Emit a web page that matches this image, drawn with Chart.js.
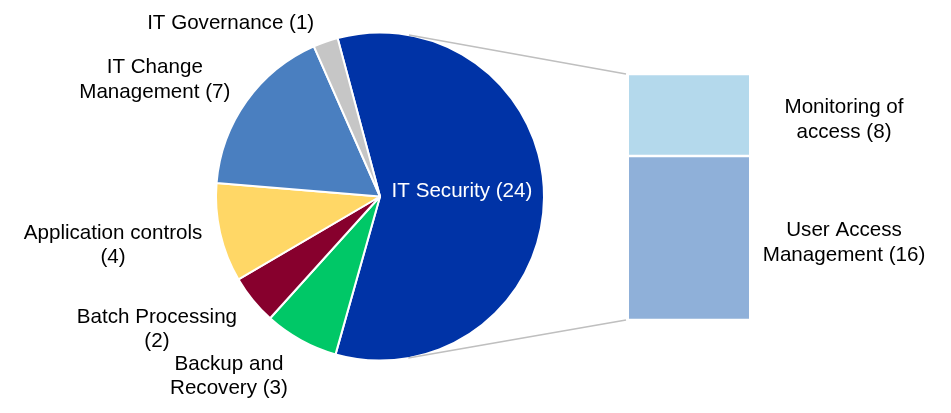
<!DOCTYPE html>
<html>
<head>
<meta charset="utf-8">
<script src="https://cdn.jsdelivr.net/npm/chart.js@4.4.1/dist/chart.umd.min.js"></script>
<style>
  body { margin: 0; background: #fff; }
  #wrap { position: relative; width: 951px; height: 413px; }
  #wrap canvas { position: absolute; left: 0; top: 0; }
</style>
</head>
<body>
<div id="wrap">
  <canvas id="pieCanvas" width="951" height="413"></canvas>
  <canvas id="barCanvas" width="951" height="413"></canvas>
</div>
<script>
// данные круговой диаграммы
const pieCategories = ['IT Security', 'Backup and Recovery', 'Batch Processing', 'Application controls', 'IT Change Management', 'IT Governance'];
const pieValues = [24, 3, 2, 4, 7, 1];
const pieColors = ['#0033A6', '#00C867', '#87002D', '#FFD766', '#4A7FC0', '#C6C6C6'];
const pieLabelLines = [
  ['IT Security (24)'],
  ['Backup and', 'Recovery (3)'],
  ['Batch Processing', '(2)'],
  ['Application controls', '(4)'],
  ['IT Change', 'Management (7)'],
  ['IT Governance (1)']
];

// разбивка IT Security (столбик справа, снизу вверх)
const barCategories = ['User Access Management', 'Monitoring of access'];
const barValues = [16, 8];
const barColors = ['#8FB0D9', '#B4D9EC'];
const barLabelLines = [
  ['User Access', 'Management (16)'],
  ['Monitoring of', 'access (8)']
];

const FONT = "20.6px 'Liberation Sans', Arial, sans-serif";
const LINE_H = 24.5;

function drawLines(ctx, lines, cx, top, color) {
  ctx.fillStyle = color;
  ctx.textAlign = 'center';
  ctx.textBaseline = 'middle';
  // +3: визуальный центр строки чуть ниже середины em-бокса
  lines.forEach((t, i) => ctx.fillText(t, cx, top + LINE_H * (i + 0.5) + 3));
}

// подписи секторов
const pieLabelsPlugin = {
  id: 'pieLabels',
  afterDatasetsDraw(chart) {
    const ctx = chart.ctx;
    const total = pieValues.reduce((a, b) => a + b, 0);
    ctx.save();
    ctx.font = FONT;
    chart.getDatasetMeta(0).data.forEach((arc, i) => {
      const p = arc.getProps(['x', 'y', 'startAngle', 'endAngle', 'outerRadius'], true);
      const mid = (p.startAngle + p.endAngle) / 2;
      const lines = pieLabelLines[i];
      const h = lines.length * LINE_H;
      if (pieValues[i] / total > 0.3) {
        const cx = p.x + Math.cos(mid) * p.outerRadius * 0.5;
        const cy = p.y + Math.sin(mid) * p.outerRadius * 0.5;
        drawLines(ctx, lines, cx, cy - h / 2 - 9, '#fff');
        return;
      }
      const w = Math.max(...lines.map(t => ctx.measureText(t).width));
      const ax = p.x + Math.cos(mid) * (p.outerRadius + 10);
      const ay = p.y + Math.sin(mid) * (p.outerRadius + 10);
      const up = -Math.sin(mid);
      const f = Math.min(1, Math.max(0, 0.5 + 0.65 * up));
      const top = ay - h * f;
      const cx = Math.cos(mid) < 0 ? ax - 8 - w / 2 : ax + 8 + w / 2;
      drawLines(ctx, lines, cx, top, '#000');
    });
    ctx.restore();
  }
};

const pieChart = new Chart(document.getElementById('pieCanvas'), {
  type: 'pie',
  data: {
    labels: pieCategories,
    datasets: [{
      data: pieValues,
      backgroundColor: pieColors,
      borderColor: '#fff',
      borderWidth: 2
    }]
  },
  options: {
    responsive: false,
    animation: false,
    rotation: -15,
    radius: 164,
    layout: { padding: { left: 0, right: 191, top: 0, bottom: 20 } },
    plugins: {
      legend: { display: false },
      tooltip: { enabled: false }
    }
  },
  plugins: [pieLabelsPlugin]
});

// соединительные линии + подписи столбика
const barExtrasPlugin = {
  id: 'barExtras',
  beforeDatasetsDraw(chart) {
    const arc = pieChart.getDatasetMeta(0).data[0];
    const c = arc.getProps(['x', 'y', 'outerRadius'], true);
    const low = chart.getDatasetMeta(0).data[0];
    const high = chart.getDatasetMeta(1).data[0];
    const left = low.x - low.width / 2 - 3;
    const corners = [[left, high.y, -1], [left, low.base, 1]];
    const ctx = chart.ctx;
    ctx.save();
    ctx.strokeStyle = '#BFBFBF';
    ctx.lineWidth = 1.5;
    corners.forEach(([px, py, sgn]) => {
      const dx = px - c.x, dy = py - c.y;
      const d = Math.hypot(dx, dy);
      const phi = Math.atan2(dy, dx);
      const a = phi + sgn * Math.acos(c.outerRadius / d);
      ctx.beginPath();
      ctx.moveTo(c.x + Math.cos(a) * c.outerRadius, c.y + Math.sin(a) * c.outerRadius);
      ctx.lineTo(px, py);
      ctx.stroke();
    });
    ctx.restore();
  },
  afterDatasetsDraw(chart) {
    const ctx = chart.ctx;
    ctx.save();
    ctx.font = FONT;
    barLabelLines.forEach((lines, i) => {
      const bar = chart.getDatasetMeta(i).data[0];
      const cx = bar.x + bar.width / 2 + 95;
      const cy = (bar.y + bar.base) / 2;
      drawLines(ctx, lines, cx, cy - lines.length * LINE_H / 2 + 2, '#000');
    });
    ctx.restore();
  }
};

const barChart = new Chart(document.getElementById('barCanvas'), {
  type: 'bar',
  data: {
    labels: ['IT Security'],
    datasets: barCategories.map((name, i) => ({
      label: name,
      data: [barValues[i]],
      backgroundColor: barColors[i],
      borderColor: '#fff',
      borderWidth: { top: 1.5, bottom: 1.5, left: 0, right: 0 },
      borderSkipped: false,
      barPercentage: 1,
      categoryPercentage: 1
    }))
  },
  options: {
    responsive: false,
    animation: false,
    layout: { padding: { left: 629, right: 202, top: 74, bottom: 93 } },
    scales: {
      x: { stacked: true, display: false },
      y: { stacked: true, display: false, min: 0, max: barValues.reduce((a, b) => a + b, 0) }
    },
    plugins: {
      legend: { display: false },
      tooltip: { enabled: false }
    }
  },
  plugins: [barExtrasPlugin]
});
</script>
</body>
</html>
